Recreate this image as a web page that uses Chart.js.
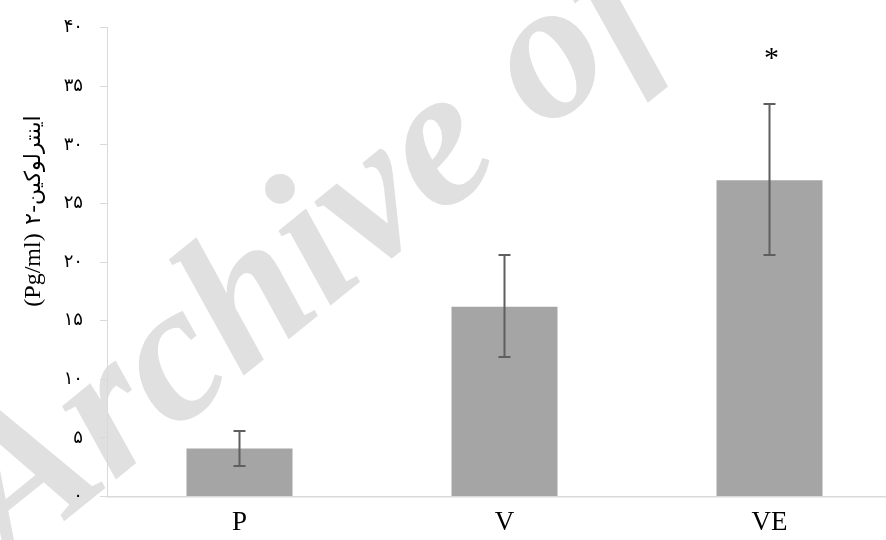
<!DOCTYPE html>
<html><head><meta charset="utf-8">
<script src="https://cdn.jsdelivr.net/npm/chart.js@4"></script>
<style>
html,body{margin:0;padding:0;background:#fff;overflow:hidden;width:886px;height:540px}
#wrap{width:910px;height:540px;position:relative}
</style></head>
<body><div id="wrap"><canvas id="c" width="910" height="540"></canvas></div>
<script>
// ---- data ----
const categories = ['P', 'V', 'VE'];
const means = [4.1, 16.2, 27.0];
const errLow = [2.6, 11.9, 20.6];
const errHigh = [5.6, 20.6, 33.5];
const sigMarks = ['', '', '*'];
const yTickValues = [0, 5, 10, 15, 20, 25, 30, 35, 40];
const yTickLabels = ['۰', '۵', '۱۰', '۱۵', '۲۰', '۲۵', '۳۰', '۳۵', '۴۰'];
const yTitleFa = 'اینترلوکین-۲';
const yTitleUnit = '(Pg/ml)';
const watermark = 'Archive of SID';

const bgPlugin = {
  id: 'bg',
  beforeDraw(chart) {
    const ctx = chart.ctx;
    ctx.save();
    ctx.fillStyle = '#fff';
    ctx.fillRect(0, 0, chart.width, chart.height);
    ctx.translate(10, 565);
    ctx.rotate(-39 * Math.PI / 180);
    ctx.font = 'bold italic 198px "Liberation Serif"';
    ctx.fillStyle = '#e0e0e0';
    ctx.textBaseline = 'alphabetic';
    ctx.fillText(watermark, 0, 0);
    ctx.restore();
  }
};

const errPlugin = {
  id: 'err',
  afterDatasetsDraw(chart) {
    const ctx = chart.ctx;
    const ys = chart.scales.y;
    const meta = chart.getDatasetMeta(0);
    ctx.save();
    ctx.strokeStyle = '#5f5f5f';
    ctx.lineWidth = 2;
    meta.data.forEach((bar, i) => {
      const x = bar.x;
      const yl = ys.getPixelForValue(errLow[i]);
      const yh = ys.getPixelForValue(errHigh[i]);
      ctx.beginPath();
      ctx.moveTo(x, yl); ctx.lineTo(x, yh);
      ctx.moveTo(x - 6, yl); ctx.lineTo(x + 6, yl);
      ctx.moveTo(x - 6, yh); ctx.lineTo(x + 6, yh);
      ctx.stroke();
      if (sigMarks[i]) {
        ctx.font = '30px "Liberation Serif"';
        ctx.fillStyle = '#000';
        ctx.textAlign = 'center';
        ctx.textBaseline = 'alphabetic';
        const m = ctx.measureText(sigMarks[i]);
        const cy = yh - 50;
        const base = cy + (m.actualBoundingBoxAscent - m.actualBoundingBoxDescent) / 2;
        ctx.fillText(sigMarks[i], x + 2, base);
      }
    });
    ctx.restore();
  },
  afterDraw(chart) {
    const ctx = chart.ctx;
    ctx.save();
    ctx.fillStyle = '#000';
    ctx.textAlign = 'center';
    ctx.textBaseline = 'alphabetic';
    ctx.save();
    ctx.translate(40, 270);
    ctx.rotate(-Math.PI / 2);
    ctx.font = '24px "Liberation Serif"';
    ctx.fillText(yTitleUnit, 0, 0);
    ctx.restore();
    ctx.save();
    ctx.translate(40, 170);
    ctx.rotate(-Math.PI / 2);
    ctx.direction = 'rtl';
    ctx.font = '22px "DejaVu Sans"';
    ctx.fillText(yTitleFa, 0, 0);
    ctx.restore();
    ctx.restore();
  }
};

new Chart(document.getElementById('c'), {
  type: 'bar',
  data: {
    labels: categories,
    datasets: [{
      data: means,
      backgroundColor: '#a5a5a5',
      borderWidth: 0,
      categoryPercentage: 1.0,
      barPercentage: 0.4
    }]
  },
  options: {
    responsive: false,
    devicePixelRatio: 1,
    animation: false,
    layout: { padding: { top: 25, right: 8, bottom: 0, left: 0 } },
    plugins: { legend: { display: false }, tooltip: { enabled: false } },
    scales: {
      x: {
        grid: { display: false, drawTicks: false },
        border: { display: true, color: '#d9d9d9', width: 1.5 },
        ticks: { color: '#000', padding: 10, font: { family: '"Liberation Serif"', size: 27 } },
        afterFit: s => { s.height = 43.5; }
      },
      y: {
        min: 0, max: 40,
        afterBuildTicks: s => { s.ticks = yTickValues.map(v => ({ value: v })); },
        grid: { drawOnChartArea: false, drawTicks: true, tickLength: 7, color: '#d9d9d9' },
        border: { display: true, color: '#d9d9d9', width: 1 },
        ticks: {
          color: '#000', padding: 17,
          font: { family: '"DejaVu Sans"', size: 18 },
          callback: v => yTickLabels[yTickValues.indexOf(v)]
        },
        afterFit: s => { s.width = 107; }
      }
    }
  },
  plugins: [bgPlugin, errPlugin]
});
</script></body></html>
